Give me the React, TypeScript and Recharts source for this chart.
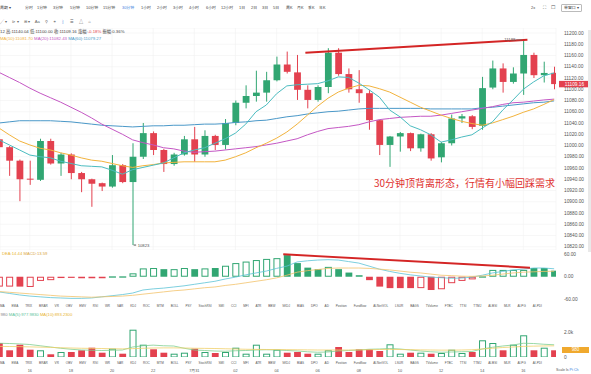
import React from 'react';
import { ComposedChart, Bar, Line, XAxis, YAxis, CartesianGrid, ReferenceLine, ReferenceDot } from 'recharts';

const GREEN = '#31a672';
const RED = '#e3414f';
const C_MA5 = '#4bbcc0';
const C_MA10 = '#f2b33d';
const C_MA20 = '#c457c4';
const C_MA60 = '#4a98c8';
const FONT = "'Liberation Sans', 'Noto Sans CJK SC', sans-serif";

// ---- price data (30 min candles) ----
const opens = [11011,10997,10973,10941,10939,11008,10968,10984,10951,10940,10933,10927,10965,10935,10980,11022,10992,10967,10984,11011,10984,11017,11001,11040,11076,11088,11094,11116,11144,11130,11099,11081,11104,11165,11127,11100,11093,11045,11001,11016,11022,10995,11020,10979,11004,11048,11052,11035,11103,11137,11113,11128,11161,11125,11129.2];
const highs = [11016,10999,10975,10973,11012,11012,10987,10986,10953,10941,10934,10983,10967,11004,11040,11025,10994,10987,11017,11033,11027,11019,11047,11080,11107,11133,11131,11158,11167,11161,11107,11107,11173,11173,11137,11134,11099,11046,11017,11024,11023,11021,11022,11006,11055,11056,11054,11122,11151,11146,11139,11188,11165,11149,11140.04];
const lows = [10993,10946,10901,10930,10937,10966,10946,10940,10917,10891,10919,10925,10933,10823,10976,10983,10953,10964,10982,10971,10980,10992,10993,11036,11066,11078,11078,11114,11128,11081,11066,11078,11093,11124,11094,11076,11028,10983,10962,10989,10990,10989,10973,10970,11000,11040,11029,11028,11100,11094,11110,11090,11120,11112,11100];
const closes = [10997,10973,10940,10940,11008,10968,10984,10951,10940,10932,10927,10965,10935,10980,11022,10992,10967,10984,11011,10984,11017,11001,11040,11076,11088,11094,11116,11144,11131,11099,11081,11104,11165,11127,11100,11093,11045,11001,11016,11022,10995,11020,10977,11004,11048,11052,11033,11102,11137,11113,11128,11161,11125,11129,11109.16];

const ma5 = [11010,11001,10992,10983,10980,10978,10972,10968,10964,10963,10962,10956,10949,10957,10961,10965,10969,10978,10987,10992,10996,11004,11012,11022,11038,11060,11072,11092,11106,11108,11109,11110,11115,11122,11121,11111,11099,11086,11063,11051,11035,11028,11019,11006,11010,11015,11019,11031,11042,11063,11081,11100,11113,11124,11129];
const ma10 = [11031,11019,11008,11001,10995,10992,10987,10983,10978,10974,10972,10968,10964,10961,10964,10966,10969,10970,10971,10971,10971,10971,10974,10980,10987,10996,11004,11013,11024,11038,11054,11070,11084,11095,11102,11107,11106,11101,11095,11086,11077,11068,11061,11054,11048,11043,11039,11036,11040,11046,11052,11059,11065,11073,11081.7];
const ma20 = [11130,11121,11112,11102,11093,11085,11077,11068,11059,11049,11038,11029,11020,11010,11005,11001,10996,10994,10990,10988,10989,10990,10992,10994,10996,10998,11001,11004,11008,11012,11019,11025,11030,11032,11034,11037,11042,11046,11048,11050,11051,11052,11052,11054,11057,11060,11063,11066,11069,11073,11076,11077,11079,11081,11082.43];
const ma60 = [11040,11042,11044,11044,11044,11044,11043,11042,11040,11038,11036,11035,11034,11033,11034,11035,11035,11036,11036,11037,11038,11038,11039,11041,11042,11044,11045,11048,11051,11053,11056,11058,11060,11061,11063,11065,11066,11066,11066,11066,11066,11066,11065,11065,11065,11065,11065,11067,11068,11070,11072,11074,11076,11077,11079.27];

// ---- MACD ----
const macdHist = [-26,-26,-26,-27,-11,-9,-2,-3,-4,-4,-4,1,1,9,22,23,20,20,23,20,22,23,29,36,40,44,47,49,57,36,24,20,26,20,11,4,-9,-26,-30,-30,-30,-30,-35,-33,-17,-11,-7,1,18,18,18,18,23,23,16];
const macdSolid = [0,0,1,0,0,0,0,1,1,1,1,0,0,0,0,0,1,0,0,1,0,1,0,0,0,0,0,0,1,1,1,1,0,1,1,1,1,1,1,1,1,0,1,0,0,0,0,0,0,0,0,0,1,1,1];
const dif = [-40,-44,-48,-51,-53,-55,-56,-57,-57,-56,-53,-50,-47,-43,-35,-32,-30,-27,-24,-20,-16,-12,-6,-1,5,10,15,22,28,39,42,44,45,44,40,36,28,20,14,9,5,2,-1,-2.5,-4,-3.5,-1,4,10,14,18,20,23,23,21];
const dea = [-39,-41,-43,-45,-47,-49,-51,-52,-53,-54,-53,-52,-51,-49,-46,-43,-40,-37,-35,-32,-29,-27,-23,-20,-16,-12,-8,-3,4,12,16,19,22,23,23,23,22,20,18,15,12,10,7,4,3,1.5,1,2,4,7,10,12,13,14,14.44];

// ---- volume ----
const volumes = [1120,536,984,584,536,216,400,400,536,744,344,664,264,2184,984,616,344,264,344,664,400,320,400,744,264,984,264,584,344,400,264,264,536,800,400,616,616,480,1016,264,344,344,264,320,584,320,400,1336,1120,536,984,1736,536,744,536];
const volMa5 = [1100,1080,1050,1000,900,800,700,620,560,540,520,540,560,800,900,950,900,880,700,560,520,480,460,500,520,560,580,560,520,480,420,380,400,480,520,560,620,640,680,640,560,480,420,380,400,420,440,640,780,880,960,1100,1080,1020,978];
const volMa10 = [850,840,830,810,790,770,740,720,700,690,680,660,650,670,700,720,730,730,720,700,690,680,660,640,620,610,600,600,590,580,570,560,560,560,560,570,580,600,610,600,590,570,560,550,550,560,580,640,700,760,800,850,870,885,893];

// ---- ticks / labels ----
const priceTicks = [10820,10840,10860,10880,10900,10920,10940,10960,10980,11000,11020,11040,11060,11080,11100,11120,11140,11160,11180,11200];
const macdTicks = [-60, 0, 60];
const volTicks = [0, 2000];
const dateTickIdx = [3,7,11,15,19,23,27,31,35,39,43,47,51];
const dateTickLabels = ['16','18','20','22','7月31','02','04','06','08','10','12','14','16'];
const indicatorTabs = ['MA','EMA','TRIX','BRAR','VR','OBV','EMV','RSI','WR','SAR','KDJ','ROC','MTM','BOLL','PSY','StochRSI','SMI','CCI','MFI','ATR','BBW','SKDJ','BIAS','DPO','AD','Position','Fundflow','AI-NetVOL','LSUR','BAGS','TVolume','FTBC','TTSI','TTMJ','AI-BSI','MLR','AI-PG','AI-PDI'];
const periods = ['周期 ▾','分时','1分钟','3分钟','5分钟','10分钟','15分钟','30分钟','1小时','2小时','3小时','4小时','6小时','12小时','1日','2日','3日','5日','周K','月K','季K','年K'];
const periodX = [0,25,37,53,70,86,103,122,141,157,173,189,206,221,239,251,262,273,286,297,308,319];

const priceData = opens.map((o, i) => ({
  i, o, h: highs[i], l: lows[i], c: closes[i], range: [lows[i], highs[i]],
  ma5: ma5[i], ma10: ma10[i], ma20: ma20[i], ma60: ma60[i],
}));
const macdData = macdHist.map((m, i) => ({ i, m, solid: macdSolid[i], dif: dif[i], dea: dea[i] }));
const volData = volumes.map((v, i) => ({ i, v, up: closes[i] >= opens[i], ma5: volMa5[i], ma10: volMa10[i] }));

const X_DOMAIN: [number, number] = [0.097, 54.18];
const tickStyle = { fontSize: 4.8, fill: '#555', fontFamily: FONT };

function Candle(props: any) {
  const { x, y, width, height, payload } = props;
  if (x == null || !payload) return null;
  const cx = x + width / 2;
  const yHi = Math.min(y, y + height);
  const yLo = Math.max(y, y + height);
  const { o, h, l, c } = payload;
  const span = h - l || 1;
  const py = (v: number) => yHi + ((h - v) / span) * (yLo - yHi);
  const col = c >= o ? GREEN : RED;
  const bt = py(Math.max(o, c));
  const bb = py(Math.min(o, c));
  return (
    <g>
      <line x1={cx} x2={cx} y1={yHi} y2={yLo} stroke={col} strokeWidth={1} />
      <rect x={cx - 3.4} y={bt} width={6.8} height={Math.max(1, bb - bt)} fill={col} />
    </g>
  );
}

function MacdBar(props: any) {
  const { x, y, width, height, payload } = props;
  if (x == null || !payload) return null;
  const cx = x + width / 2;
  const top = Math.min(y, y + height);
  const h = Math.abs(height);
  const col = payload.m >= 0 ? GREEN : RED;
  if (payload.solid) return <rect x={cx - 3.4} y={top} width={6.8} height={Math.max(h, 0.8)} fill={col} />;
  return <rect x={cx - 3} y={top + 0.5} width={6} height={Math.max(h - 1, 0.3)} fill="#fff" stroke={col} strokeWidth={1} />;
}

function VolBar(props: any) {
  const { x, y, width, height, payload } = props;
  if (x == null || !payload) return null;
  const cx = x + width / 2;
  const top = Math.min(y, y + height);
  const h = Math.abs(height);
  if (!payload.up) return <rect x={cx - 3.4} y={top} width={6.8} height={h} fill={RED} />;
  return <rect x={cx - 3} y={top + 0.5} width={6} height={Math.max(h - 0.5, 0.3)} fill="#fff" stroke={GREEN} strokeWidth={1} />;
}

const PriceTag = (props: any) => {
  const { viewBox } = props;
  if (!viewBox) return null;
  const x = viewBox.x + viewBox.width + 3;
  const y = viewBox.y;
  return (
    <g>
      <rect x={x} y={y - 3.2} width={31} height={6.4} fill={RED} />
      <text x={x + 15.5} y={y + 1.7} textAnchor="middle" fontSize={4.8} fill="#fff" fontFamily={FONT}>{closes[closes.length - 1].toFixed(2)}</text>
    </g>
  );
};

const HighMark = (props: any) => {
  const { cx, cy } = props;
  return (
    <g>
      <line x1={cx - 7} x2={cx - 1} y1={cy} y2={cy} stroke="#666" strokeWidth={0.6} />
      <text x={cx - 8} y={cy + 1.5} textAnchor="end" fontSize={4.2} fill="#555" fontFamily={FONT}>{String(Math.round(highs[51]))}</text>
    </g>
  );
};
const LowMark = (props: any) => {
  const { cx, cy } = props;
  return (
    <g>
      <line x1={cx + 1} x2={cx + 3.5} y1={cy} y2={cy} stroke="#555" strokeWidth={1} />
      <text x={cx + 5} y={cy + 1.5} fontSize={4.2} fill="#555" fontFamily={FONT}>{String(lows[13])}</text>
    </g>
  );
};

const abs = (left: number, top: number, extra: any = {}) => ({ position: 'absolute' as const, left, top, whiteSpace: 'nowrap' as const, lineHeight: 1, fontFamily: FONT, ...extra });

function TabRow({ top }: { top: number }) {
  return (
    <div style={abs(0, top, { fontSize: 3.1, color: '#555', display: 'flex', gap: 6.9 })}>
      {indicatorTabs.map((t) => <span key={t}>{t}</span>)}
    </div>
  );
}

export default function App() {
  return (
    <div style={{ position: 'absolute', left: 0, top: 0, width: 591, height: 374, overflow: 'hidden', background: '#fff', fontFamily: FONT }}>
      {/* header row 1 */}
      {periods.map((p, k) => (
        <div key={p} style={abs(periodX[k], 6, { fontSize: 3.9, color: p === '30分钟' ? '#3b7ddd' : '#444' })}>{p}</div>
      ))}
      <div style={abs(531, 6, { fontSize: 3.9, color: '#444' })}>2x</div>
      <div style={abs(543, 5.5, { fontSize: 4.5, color: '#555' })}>⛶</div>
      <div style={abs(551, 5.5, { fontSize: 4.5, color: '#555' })}>☐</div>
      <div style={abs(561, 4, { fontSize: 3.9, color: '#444', border: '0.6px solid #bbb', padding: '1px 2px', borderRadius: 1 })}>单窗口 ▾</div>
      {/* header row 2: drawing tools */}
      <div style={abs(0, 19.5, { fontSize: 4.2, color: '#666', display: 'flex', gap: 5 })}>
        <span>╱ ▾</span><span>⊳ ▾</span><span>⊞ ▾</span><span>Aa</span><span>⚲</span><span>⚭</span><span style={{ color: '#3b7ddd' }}>⌇</span><span>☰</span><span>△</span><span>⌂</span>
      </div>

      {/* price pane */}
      <div style={{ position: 'absolute', left: 0, top: 28 }}>
        <ComposedChart width={591} height={222} data={priceData} margin={{ top: 0, right: 0, bottom: 0, left: 0 }}>
          <CartesianGrid stroke="#f1f1f1" strokeWidth={0.6} />
          <XAxis type="number" dataKey="i" domain={X_DOMAIN} allowDataOverflow hide ticks={dateTickIdx} />
          <YAxis orientation="right" width={35} type="number" domain={[10814.2, 11208.9]} allowDataOverflow ticks={priceTicks} interval={0}
            tickFormatter={(v: number) => v.toFixed(2)} tick={tickStyle} axisLine={false} tickLine={false} />
          <Line dataKey="ma60" stroke={C_MA60} strokeWidth={1} dot={false} isAnimationActive={false} />
          <Line dataKey="ma20" stroke={C_MA20} strokeWidth={1} dot={false} isAnimationActive={false} />
          <Line dataKey="ma10" stroke={C_MA10} strokeWidth={1} dot={false} isAnimationActive={false} />
          <Bar dataKey="range" barSize={7} shape={<Candle />} isAnimationActive={false} />
          <Line dataKey="ma5" stroke={C_MA5} strokeWidth={1} dot={false} isAnimationActive={false} />
          <ReferenceLine segment={[{ x: 29.8, y: 11165 }, { x: 51.4, y: 11188 }]} stroke="#d42525" strokeWidth={2} />
          <ReferenceLine y={closes[closes.length - 1]} stroke="none" label={<PriceTag />} />
          <ReferenceDot x={51} y={highs[51]} r={0} shape={<HighMark />} />
          <ReferenceDot x={13} y={lows[13]} r={0} shape={<LowMark />} />
        </ComposedChart>
      </div>
      {/* info rows */}
      <div style={abs(0, 30, { fontSize: 4.3, color: '#444' })}>
        12 高:11140.04 低:11100.00 收:11109.16 涨幅:<span style={{ color: RED }}>-0.18%</span> 振幅:0.36%
      </div>
      <div style={abs(0, 36.5, { fontSize: 4.3 })}>
        <span style={{ color: C_MA10 }}>MA(10):11081.70</span>{'  '}
        <span style={{ color: C_MA20 }}>MA(20):11082.43</span>{'  '}
        <span style={{ color: C_MA60 }}>MA(60):11079.27</span>
      </div>
      <div style={abs(374, 178, { fontSize: 10, color: '#e0302e', fontFamily: "'Noto Sans CJK SC', sans-serif" })}>30分钟顶背离形态，行情有小幅回踩需求</div>

      {/* MACD pane */}
      <div style={{ position: 'absolute', left: 0, top: 250 }}>
        <ComposedChart width={591} height={52} data={macdData} margin={{ top: 0, right: 0, bottom: 0, left: 0 }}>
          <XAxis type="number" dataKey="i" domain={X_DOMAIN} allowDataOverflow hide ticks={dateTickIdx} />
          <YAxis orientation="right" width={35} type="number" domain={[-66.6, 70.5]} allowDataOverflow ticks={macdTicks} interval={0}
            tickFormatter={(v: number) => v.toFixed(2)} tick={tickStyle} axisLine={false} tickLine={false} />
          <Bar dataKey="m" barSize={7} shape={<MacdBar />} isAnimationActive={false} />
          <Line dataKey="dif" stroke="#5cc3d6" strokeWidth={0.8} dot={false} isAnimationActive={false} />
          <Line dataKey="dea" stroke="#f2c36b" strokeWidth={0.8} dot={false} isAnimationActive={false} />
          <ReferenceLine segment={[{ x: 27.65, y: 59 }, { x: 51.65, y: 24 }]} stroke="#d42525" strokeWidth={2} />
        </ComposedChart>
      </div>
      <div style={abs(2, 252, { fontSize: 4.2 })}>
        <span style={{ color: '#e8b430' }}>DEA:14.44</span>{' '}<span style={{ color: '#d9a640' }}>MACD:13.59</span>
      </div>
      <TabRow top={304.5} />

      {/* volume pane */}
      <div style={{ position: 'absolute', left: 0, top: 312 }}>
        <ComposedChart width={591} height={62} data={volData} margin={{ top: 0, right: 0, bottom: 0, left: 0 }}>
          <XAxis type="number" dataKey="i" domain={X_DOMAIN} allowDataOverflow ticks={dateTickIdx} interval={0} height={17}
            tickFormatter={(v: number) => dateTickLabels[dateTickIdx.indexOf(v)] ?? ''}
            tick={{ fontSize: 3.8, fill: '#555', fontFamily: FONT, dy: 4 }} axisLine={false} tickLine={false} />
          <YAxis orientation="right" width={35} type="number" domain={[0, 3600]} allowDataOverflow ticks={volTicks} interval={0}
            tickFormatter={(v: number) => (v === 0 ? '0' : (v / 1000).toFixed(1) + 'k')} tick={tickStyle} axisLine={false} tickLine={false} />
          <Bar dataKey="v" barSize={7} shape={<VolBar />} isAnimationActive={false} />
          <Line dataKey="ma5" stroke="#7fcf8f" strokeWidth={0.8} dot={false} isAnimationActive={false} />
          <Line dataKey="ma10" stroke="#f0cf6a" strokeWidth={0.8} dot={false} isAnimationActive={false} />
        </ComposedChart>
      </div>
      <div style={abs(0.5, 313, { fontSize: 4.2 })}>
        <span style={{ color: '#888' }}>980</span>{'  '}
        <span style={{ color: '#5cc39a' }}>MA(5):977.9830</span>{'  '}
        <span style={{ color: '#e8b430' }}>MA(10):893.2300</span>
      </div>
      <div style={abs(562, 347, { fontSize: 4.5, color: '#fff', background: '#f0a92e', width: 27, height: 6, textAlign: 'center', lineHeight: '6px' })}>980</div>
      <TabRow top={361.5} />
      <div style={abs(556, 369, { fontSize: 3.6, color: '#555' })}>Scale  <span>ls</span>  <span style={{ color: '#3b7ddd' }}>Pt Ch</span></div>
      {/* right scroll strip */}
      <div style={{ position: 'absolute', left: 588, top: 30, width: 3, height: 222, background: '#e9e9e9' }} />
    </div>
  );
}
